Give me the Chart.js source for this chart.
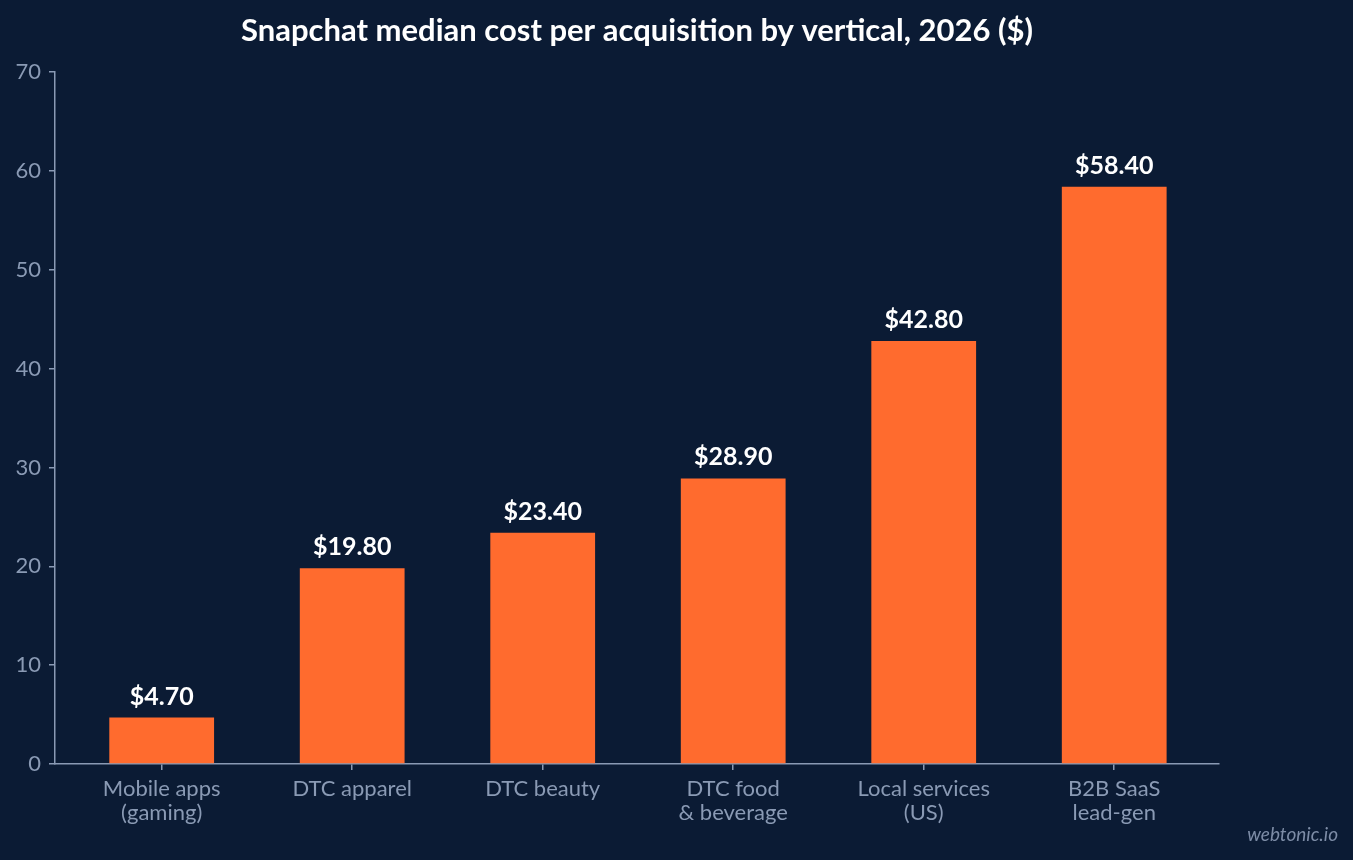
<!DOCTYPE html>
<html>
<head>
<meta charset="utf-8">
<script src="https://cdn.jsdelivr.net/npm/chart.js@4"></script>
<style>
html,body{margin:0;padding:0;background:#0b1b34;}
#wrap{position:relative;width:1353px;height:860px;}
</style>
</head>
<body>
<div id="wrap"><canvas id="c" width="1353" height="860"></canvas></div>
<script>
const categories = [["Mobile apps","(gaming)"],"DTC apparel","DTC beauty",["DTC food","& beverage"],["Local services","(US)"],["B2B SaaS","lead-gen"]];
const values = [4.7, 19.8, 23.4, 28.9, 42.8, 58.4];
const yTicks = [0,10,20,30,40,50,60,70];
const titleText = "Snapchat median cost per acquisition by vertical, 2026 ($)";
const watermark = "webtonic.io";

const axisColor = '#8a9ab4';
const FONT = 'Lato, "Open Sans", sans-serif';

const labelPlugin = {
  id: 'valueLabels',
  afterDatasetsDraw(chart) {
    const ctx = chart.ctx;
    const meta = chart.getDatasetMeta(0);
    ctx.save();
    ctx.font = 'bold 25px ' + FONT;
    ctx.fillStyle = '#ffffff';
    ctx.textAlign = 'center';
    ctx.textBaseline = 'alphabetic';
    meta.data.forEach((bar, i) => {
      ctx.fillText('$' + values[i].toFixed(2), bar.x, bar.y - 13);
    });
    ctx.restore();
  }
};
const watermarkPlugin = {
  id: 'wm',
  afterDraw(chart) {
    const ctx = chart.ctx;
    ctx.save();
    ctx.font = 'italic 19px ' + FONT;
    ctx.fillStyle = '#7d8ca6';
    ctx.textAlign = 'right';
    ctx.textBaseline = 'alphabetic';
    ctx.fillText(watermark, 1338, 841);
    ctx.restore();
  }
};

new Chart(document.getElementById('c'), {
  type: 'bar',
  data: {
    datasets: [{
      data: values.map((v, i) => ({x: i, y: v})),
      backgroundColor: '#ff6b2e',
      borderWidth: 0,
      barPercentage: 0.55,
      categoryPercentage: 1.0
    }]
  },
  options: {
    responsive: false,
    animation: false,
    layout: {padding: {left: 0, right: 134, top: 0, bottom: 0}},
    plugins: {
      legend: {display: false},
      tooltip: {enabled: false},
      title: {
        display: true,
        text: titleText,
        fullSize: false,
        color: '#ffffff',
        font: {family: FONT, size: 31, weight: 'bold', lineHeight: 1.2},
        padding: {top: 12, bottom: 23}
      }
    },
    scales: {
      x: {
        type: 'linear',
        offset: false,
        min: -0.56,
        max: 5.55,
        afterBuildTicks: s => { s.ticks = categories.map((_, i) => ({value: i})); },
        afterFit: s => { s.height = 96; },
        border: {display: true, color: axisColor, width: 1.5},
        grid: {display: true, offset: false, drawOnChartArea: false, drawTicks: true, tickLength: 6, color: axisColor, lineWidth: 1.5},
        ticks: {
          color: axisColor,
          font: {family: FONT, size: 22, lineHeight: 1.13},
          padding: 6,
          maxRotation: 0,
          autoSkip: false,
          callback: v => categories[v]
        }
      },
      y: {
        min: 0,
        max: 70,
        afterBuildTicks: s => { s.ticks = yTicks.map(v => ({value: v})); },
        afterFit: s => { s.width = 55; },
        border: {display: true, color: axisColor, width: 1.5},
        grid: {display: true, drawOnChartArea: false, drawTicks: true, tickLength: 6, color: axisColor, lineWidth: 1.5},
        ticks: {
          color: axisColor,
          font: {family: FONT, size: 22},
          padding: 8
        }
      }
    }
  },
  plugins: [labelPlugin, watermarkPlugin, {
    id: 'bg',
    beforeDraw(chart) {
      const ctx = chart.ctx;
      ctx.save();
      ctx.fillStyle = '#0b1b34';
      ctx.fillRect(0, 0, chart.width, chart.height);
      ctx.restore();
    }
  }]
});
</script>
</body>
</html>
